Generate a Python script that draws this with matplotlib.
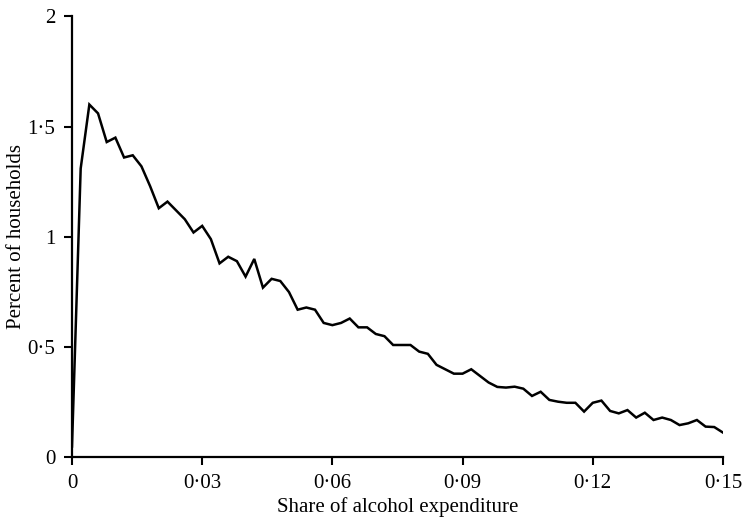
import matplotlib
matplotlib.use('Agg')
import matplotlib.pyplot as plt

# ================= Data Section =================
# share of alcohol expenditure, steps of 0.002 from 0 to 0.15
share = [round(0.002 * i, 3) for i in range(76)]
percent = [
    0.05, 1.31, 1.60, 1.56, 1.43, 1.45, 1.36, 1.37, 1.32, 1.23,
    1.13, 1.16, 1.12, 1.08, 1.02, 1.05, 0.99, 0.88, 0.91, 0.89,
    0.82, 0.90, 0.77, 0.81, 0.80, 0.75, 0.67, 0.68, 0.67, 0.61,
    0.60, 0.61, 0.63, 0.59, 0.59, 0.56, 0.55, 0.51, 0.51, 0.51,
    0.48, 0.47, 0.42, 0.40, 0.38, 0.38, 0.40, 0.37, 0.34, 0.32,
    0.317, 0.321, 0.312, 0.279, 0.298, 0.261, 0.253, 0.248, 0.248, 0.208,
    0.248, 0.258, 0.211, 0.200, 0.215, 0.181, 0.203, 0.170, 0.181, 0.170,
    0.147, 0.155, 0.170, 0.140, 0.138, 0.113,
]

xticks = [0, 0.03, 0.06, 0.09, 0.12, 0.15]
xtick_labels = ['0', '0·03', '0·06', '0·09', '0·12', '0·15']
yticks = [0, 0.5, 1, 1.5, 2]
ytick_labels = ['0', '0·5', '1', '1·5', '2']

# ================= Style Configuration =================
plt.rcParams.update({
    'font.family': ['Liberation Serif', 'DejaVu Serif'],
    'font.size': 15,
    'xtick.labelsize': 15,
    'ytick.labelsize': 15,
    'axes.linewidth': 1.6,
})

fig = plt.figure(figsize=(7.43, 5.18), dpi=100)
ax = fig.add_axes([0.0969, 0.1168, 0.8761, 0.8517])

# ================= Plotting =================
ax.plot(share, percent, color='black', linewidth=1.8, solid_joinstyle='miter')

# ================= Axes =================
ax.set_xlim(0, 0.15)
ax.set_ylim(0, 2)
ax.set_xticks(xticks)
ax.set_xticklabels(xtick_labels)
ax.set_yticks(yticks)
ax.set_yticklabels(ytick_labels)
ax.tick_params(direction='out', length=6, width=1.5, pad=6)

ax.spines['top'].set_visible(False)
ax.spines['right'].set_visible(False)

ax.set_xlabel('Share of alcohol expenditure', fontsize=15, labelpad=3)
ax.set_ylabel('Percent of households', fontsize=15, labelpad=1)

fig.savefig('out.png', dpi=100)
